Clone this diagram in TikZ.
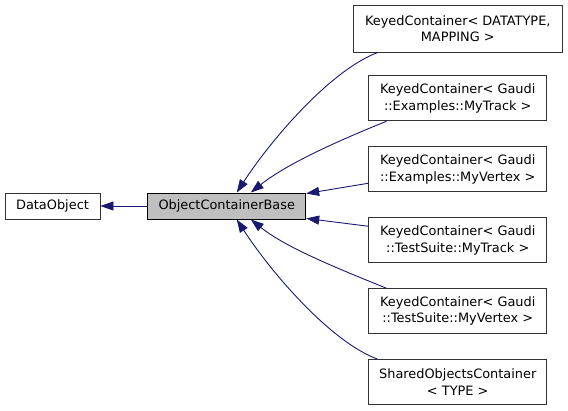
\documentclass[tikz,border=0pt]{standalone}
\usepackage{fontspec}
\setmainfont{DejaVu Sans}
\usepackage{tikz}
\usetikzlibrary{arrows.meta}
\usetikzlibrary{positioning}
\definecolor{edgeblue}{HTML}{191970}
\definecolor{basegray}{HTML}{BFBFBF}

\begin{document}
\begin{tikzpicture}[x=1pt,y=1pt,
  font=\fontsize{12.9}{16.5}\selectfont,
  node distance=25pt,
  classnode/.style={draw=black!80,fill=white,line width=0.9pt,inner sep=0pt,
    minimum width=178pt,minimum height=45pt,align=center},
  basenode/.style={draw=black,fill=basegray,line width=0.9pt,inner sep=0pt,
    minimum height=26pt},
  inherit/.style={draw=edgeblue,line width=0.9pt,
    arrows={-{Triangle[length=13pt,width=9pt]}}}]
\useasboundingbox (0,0) rectangle (568,-410);
\node [basenode,draw=black!80,fill=white,minimum width=95pt] (dobj) at (52.5,-206) {DataObject};
\node [basenode,minimum width=158pt] (ocb) at (226.75,-206) {ObjectContainerBase};
\node [classnode,minimum width=209pt,minimum height=47pt] (kc1) at (457.75,-28.5) {KeyedContainer< DATATYPE,\\MAPPING >};
\node [classnode] (kc2) [below=23pt of kc1] {KeyedContainer< Gaudi\\::Examples::MyTrack >};
\node [classnode] (kc3) [below=of kc2] {KeyedContainer< Gaudi\\::Examples::MyVertex >};
\node [classnode] (kc4) [below=of kc3] {KeyedContainer< Gaudi\\::TestSuite::MyTrack >};
\node [classnode] (kc5) [below=of kc4] {KeyedContainer< Gaudi\\::TestSuite::MyVertex >};
\node [classnode] (soc) [below=of kc5] {SharedObjectsContainer\\< TYPE >};
% base classes
\draw [inherit] (ocb) -- (dobj);
% derived classes
\draw [inherit] ([xshift=25pt]kc1.south west) .. controls +(-48,-18) and +(33,51) .. ([xshift=10pt]ocb.north);
\draw [inherit] ([xshift=18pt]kc2.south west) .. controls +(-57,-23) and +(34,27) .. ([xshift=24pt]ocb.north);
\draw [inherit] ([yshift=9pt]kc3.south west) -- ([yshift=-1pt]ocb.north east);
\draw [inherit] ([yshift=-9pt]kc4.north west) -- ([yshift=1pt]ocb.south east);
\draw [inherit] ([xshift=18pt]kc5.north west) .. controls +(-57,23) and +(34,-27) .. ([xshift=24pt]ocb.south);
\draw [inherit] ([xshift=9pt]soc.north west) .. controls +(-48,18) and +(33,-51) .. ([xshift=10pt]ocb.south);
\end{tikzpicture}
\end{document}
